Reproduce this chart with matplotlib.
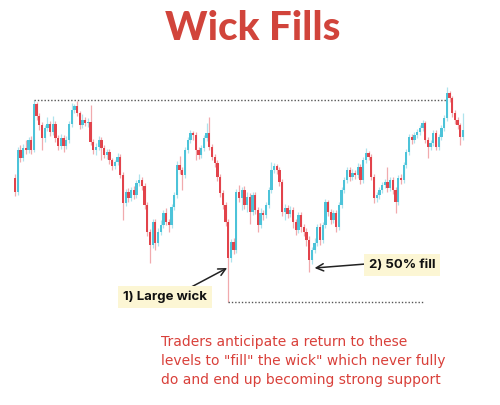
import matplotlib.pyplot as plt
import numpy as np

# price candles, left to right (open of each = previous close)
first_open = 142
closes = [128, 170, 162, 172, 170, 180, 170, 216, 204, 195,
          182, 192, 196, 188, 196, 182, 174, 182, 174, 180,
          196, 210, 214, 207, 195, 200, 197, 198, 178, 170,
          173, 180, 172, 165, 168, 160, 154, 158, 163, 145,
          117, 128, 122, 130, 125, 137, 140, 134, 115, 88,
          75, 98, 77, 88, 95, 107, 98, 95, 113, 125,
          155, 150, 145, 170, 180, 187, 185, 170, 165, 172,
          182, 187, 173, 163, 157, 143, 127, 115, 98, 62,
          78, 70, 128, 122, 130, 115, 123, 108, 125, 110,
          95, 107, 105, 115, 130, 150, 154, 150, 138, 108,
          112, 106, 110, 98, 90, 105, 93, 88, 80, 60,
          70, 77, 93, 80, 95, 118, 108, 100, 107, 93,
          115, 130, 140, 150, 143, 147, 145, 153, 140, 160,
          167, 163, 143, 122, 125, 130, 135, 138, 132, 140,
          130, 118, 142, 140, 155, 168, 183, 180, 185, 188,
          192, 197, 180, 173, 177, 187, 173, 183, 192, 202,
          227, 222, 207, 200, 195, 183, 190]
highs = [146, 173, 175, 176, 180, 183, 184, 220, 218, 207,
         198, 195, 203, 199, 204, 199, 185, 186, 185, 184,
         199, 217, 216, 219, 209, 206, 203, 202, 215, 181,
         177, 184, 183, 175, 171, 171, 162, 160, 167, 166,
         148, 131, 132, 133, 134, 140, 146, 143, 137, 118,
         91, 101, 101, 92, 100, 110, 112, 101, 116, 128,
         159, 164, 153, 173, 183, 190, 189, 188, 173, 175,
         185, 197, 203, 176, 166, 160, 146, 130, 118, 101,
         81, 82, 131, 135, 133, 134, 128, 127, 128, 128,
         113, 112, 110, 118, 133, 158, 157, 156, 153, 141,
         116, 115, 114, 113, 101, 108, 108, 96, 92, 84,
         73, 82, 96, 97, 98, 121, 120, 111, 110, 110,
         118, 133, 143, 153, 153, 151, 150, 157, 156, 163,
         172, 169, 166, 146, 128, 133, 138, 141, 153, 143,
         143, 133, 145, 146, 158, 171, 186, 186, 188, 191,
         195, 200, 199, 183, 180, 190, 190, 186, 195, 205,
         233, 229, 224, 210, 203, 197, 207]
lows = [124, 125, 158, 159, 166, 167, 166, 168, 200, 190,
        170, 178, 189, 184, 185, 178, 170, 171, 168, 171,
        177, 193, 207, 204, 191, 192, 194, 193, 175, 166,
        165, 170, 160, 162, 161, 156, 150, 151, 155, 142,
        100, 114, 118, 119, 121, 122, 134, 130, 111, 84,
        57, 72, 70, 74, 85, 92, 95, 88, 92, 110,
        122, 146, 130, 142, 167, 177, 180, 160, 161, 162,
        169, 179, 170, 160, 153, 139, 123, 111, 94, 18,
        58, 66, 67, 118, 110, 111, 108, 96, 105, 106,
        88, 92, 100, 102, 112, 127, 147, 146, 134, 104,
        100, 102, 103, 92, 85, 87, 88, 84, 74, 48,
        56, 67, 74, 75, 77, 92, 104, 96, 97, 88,
        90, 112, 127, 137, 139, 140, 141, 142, 136, 137,
        157, 160, 140, 117, 118, 121, 127, 132, 128, 129,
        126, 107, 115, 136, 137, 152, 165, 176, 177, 182,
        185, 189, 177, 162, 170, 174, 170, 170, 180, 189,
        199, 218, 203, 196, 191, 175, 180]

opens = [first_open] + closes[:-1]
idx = np.arange(len(closes))
o = np.array(opens)
c = np.array(closes)
up = c >= o

blue = '#4cc3d9'
red = '#e2434b'
cols = np.where(up, blue, red)

fig = plt.figure(figsize=(5, 4.05), dpi=100)
ax = fig.add_axes([0, 0, 1, 1])
ax.set_xlim(-5.56, 179.7)
ax.set_ylim(-85, 320)
ax.axis('off')

ax.vlines(idx, lows, highs, colors=cols, linewidth=0.9, alpha=0.45)
ax.bar(idx, np.abs(c - o), bottom=np.minimum(o, c), width=0.85,
       color=cols, linewidth=0)

# wick levels
top_i = 7
top_end = 160
bot_i = int(np.argmin(lows))
bot_end = 151
ax.plot([top_i, top_end], [highs[top_i], highs[top_i]], color='#555555',
        linestyle=(0, (1, 1.4)), linewidth=1)
ax.plot([bot_i, bot_end], [lows[bot_i], lows[bot_i]], color='#555555',
        linestyle=(0, (1, 1.4)), linewidth=1)

fig.text(0.505, 0.929, 'Wick Fills', ha='center', va='center',
         fontsize=29, color='#d1443b', family='Lato', fontweight='black')

box = dict(facecolor='#fcf6d4', edgecolor='none', pad=3.5)
ax.annotate('', xy=(bot_i - 0.4, 52), xytext=(0.376, 0.287),
            textcoords='axes fraction',
            arrowprops=dict(arrowstyle='->', color='#222222', lw=1.1,
                            mutation_scale=13, shrinkA=0, shrinkB=0))
ax.text(0.33, 0.267, '1) Large wick', transform=ax.transAxes, ha='center',
        va='center', fontsize=9.5, fontweight='bold', family='Inter',
        color='#111111', bbox=box)

ax.annotate('', xy=(111, 52), xytext=(0.73, 0.348),
            textcoords='axes fraction',
            arrowprops=dict(arrowstyle='->', color='#222222', lw=1.1,
                            mutation_scale=13, shrinkA=0, shrinkB=0))
ax.text(0.804, 0.345, '2) 50% fill', transform=ax.transAxes, ha='center',
        va='center', fontsize=9.5, fontweight='bold', family='Inter',
        color='#111111', bbox=box)

fig.text(0.322, 0.172,
         'Traders anticipate a return to these\n'
         'levels to "fill" the wick" which never fully\n'
         'do and end up becoming strong support',
         ha='left', va='top', fontsize=10, color='#d9403a',
         family='DejaVu Sans', linespacing=1.45)

fig.savefig('out.png', dpi=100, facecolor='white')
